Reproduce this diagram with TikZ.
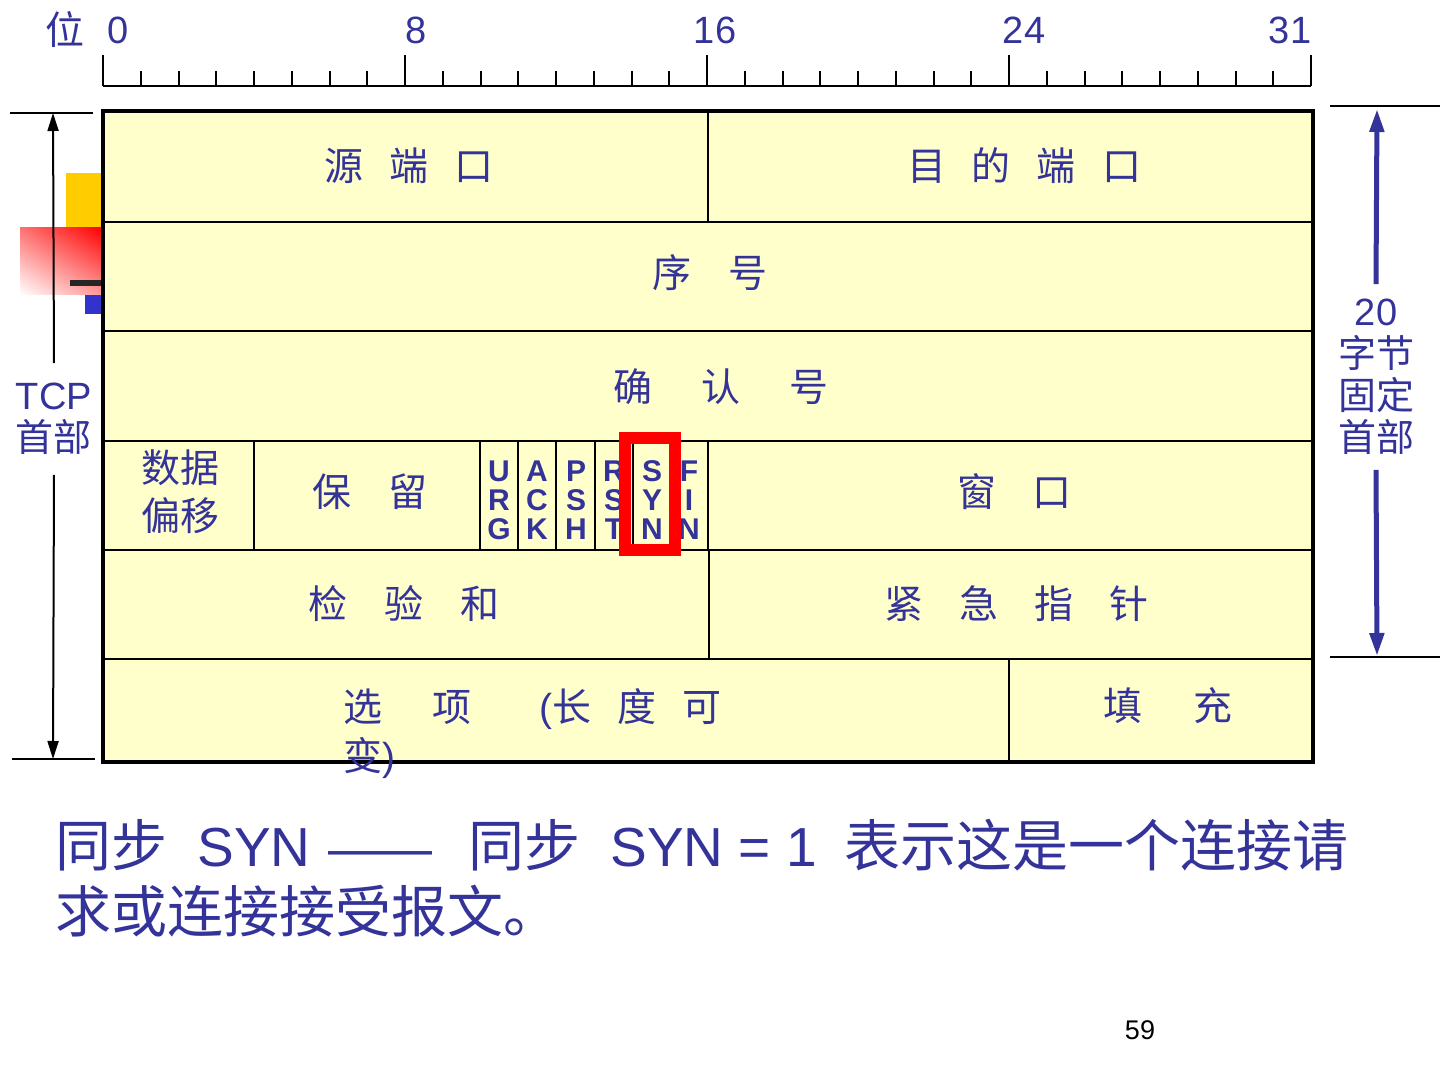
\documentclass[tikz,border=0pt]{standalone}
\usepackage{fontspec}
\setmainfont{Liberation Sans}
\newfontfamily\cjk{Noto Sans CJK SC}
\usetikzlibrary{arrows.meta,shadings}
\definecolor{tblue}{HTML}{333399}
\definecolor{cellbg}{HTML}{FFFFCC}
\definecolor{decoyel}{HTML}{FFCC00}
\definecolor{decoblue}{HTML}{3333CC}
\newcommand\cjtext[1]{{\cjk\fontsize{28}{33}\selectfont #1}}
\begin{document}
\begin{tikzpicture}[x=0.5pt,y=-0.5pt,
  lab/.style={text=tblue,font=\cjk\fontsize{19.5}{24}\selectfont,inner sep=0pt,align=center},
  num/.style={text=tblue,font=\fontsize{19}{22}\selectfont,inner sep=0pt},
  flagtxt/.style={text=tblue,font=\bfseries\fontsize{15}{14.5}\selectfont,align=center,inner sep=0pt},
  side/.style={text=tblue,font=\fontsize{19}{21}\selectfont,align=center,inner sep=0pt},
  gridline/.style={line width=1pt,black},
  big/.style={text=tblue,font=\fontsize{27.5}{33}\selectfont,inner sep=0pt,anchor=base west}]
\useasboundingbox (0,0) rectangle (1440,1080);
\fill[white] (0,0) rectangle (1440,1080);

% decoration behind the table
\fill[decoyel] (66,173) rectangle (103,228);
\shade[upper left=red!55, upper right=red, lower left=white, lower right=red!40] (20,228) rectangle (103,295);
\fill[black!85] (70,280) rectangle (103,286);
\fill[decoblue] (85,295) rectangle (103,314);

% ruler
\draw[line width=1pt] (103,86) -- (1311,86);
\foreach \i in {0,...,32}{
  \pgfmathsetmacro\xx{103+37.75*\i}
  \pgfmathtruncatemacro\m{mod(\i,8)}
  \ifnum\m=0 \draw[line width=1pt] (\xx,86) -- (\xx,55);
  \else \draw[line width=1pt] (\xx,86) -- (\xx,71); \fi
}
\node[lab] (wei) at (65,30) {位};
\node[num] (b0) at (118,30) {0};
\node[num] (b8) at (416,30) {8};
\node[num] (b16) at (715,30) {16};
\node[num] (b24) at (1024,30) {24};
\node[num] (b31) at (1290,30) {31};

% table
\fill[cellbg] (103,111) rectangle (1313,762);
\foreach \yy in {222,331,441,550,659} \draw[gridline] (103,\yy) -- (1313,\yy);
\draw[gridline] (708,111) -- (708,222);
\foreach \xx in {254,480,518,556,595,633,670,708} \draw[gridline] (\xx,441) -- (\xx,550);
\draw[gridline] (709,550) -- (709,659);
\draw[gridline] (1009,659) -- (1009,762);
\draw[line width=2pt] (103,111) rectangle (1313,762);

\node[lab] (src) at (409,166) {源\hspace{13pt}端\hspace{13pt}口};
\node[lab] (dst) at (1024,166) {目\hspace{13pt}的\hspace{13pt}端\hspace{13pt}口};
\node[lab] (seq) at (710,273) {序\hspace{18.5pt}号};
\node[lab] (ack) at (721,387) {确\hspace{24.5pt}认\hspace{24.5pt}号};
\node[lab] (off) at (180,492) {数据\\[0pt]偏移};
\node[lab] (res) at (370,492) {保\hspace{19pt}留};
\node[lab] (win) at (1014,492) {窗\hspace{18pt}口};
\node[lab] (sum) at (404,604) {检\hspace{18.5pt}验\hspace{18.5pt}和};
\node[lab] (urp) at (1016,604) {紧\hspace{18pt}急\hspace{18pt}指\hspace{18pt}针};
\node[lab,anchor=base west] (opt1) at (343,721) {选\hspace{25pt}项\hspace{34pt}{\fontspec{Liberation Sans}(}长\hspace{13pt}度\hspace{13pt}可};
\node[lab,anchor=base west] (opt2) at (343,770) {变{\fontspec{Liberation Sans})}};
\node[lab] (pad) at (1168,706) {填\hspace{25.5pt}充};

\node[flagtxt] (urg) at (499,500) {U\\R\\G};
\node[flagtxt] (fack) at (537,500) {A\\C\\K};
\node[flagtxt] (psh) at (576,500) {P\\S\\H};
\node[flagtxt] (rst) at (614,500) {R\\S\\T};
\node[flagtxt] (syn) at (652,500) {S\\Y\\N};
\node[flagtxt] (fin) at (689,500) {F\\I\\N};

% highlight around SYN
\draw[red,line width=6pt] (625,438) rectangle (675,550);

% left dimension: TCP header
\coordinate (ltop) at (53,113);
\coordinate (lbot) at (53,759);
\draw[line width=1pt] (10,113) -- (93,113);
\draw[line width=1pt] (12,759) -- (95,759);
\node[side,outer sep=10pt] (tcp) at (54,419) {TCP\\{\cjk 首部}};
\draw[line width=1pt,-{Triangle[length=9pt,width=5.5pt]}] (tcp.north) -- (ltop);
\draw[line width=1pt,-{Triangle[length=9pt,width=5.5pt]}] (tcp.south) -- (lbot);

% right dimension: 20 bytes fixed header
\coordinate (rtop) at (1377,109);
\coordinate (rbot) at (1377,656);
\draw[line width=1pt] (1330,106) -- (1440,106);
\draw[line width=1pt] (1330,657) -- (1440,657);
\node[side,outer sep=7.5pt] (fix) at (1376,377) {20\\{\cjk 字节}\\{\cjk 固定}\\{\cjk 首部}};
\draw[tblue,line width=2.5pt,-{Triangle[length=11.5pt,width=7pt]}] (fix.north) -- (rtop);
\draw[tblue,line width=2.5pt,-{Triangle[length=11.5pt,width=7pt]}] (fix.south) -- (rbot);

% explanation
\node[big] (exp1) at (55,866) {\cjtext{同步}\hspace{15pt}SYN\hspace{9pt}{\fontsize{26}{33}\selectfont ——}\hspace{18pt}\cjtext{同步}\hspace{15pt}SYN = 1\hspace{14pt}\cjtext{表示这是一个连接请}};
\node[big] (exp2) at (55,932) {\cjtext{求或连接接受报文。}};

\node[text=black,font=\fontsize{13.5}{16}\selectfont,inner sep=0pt] (page) at (1140,1030) {59};
\end{tikzpicture}
\end{document}
